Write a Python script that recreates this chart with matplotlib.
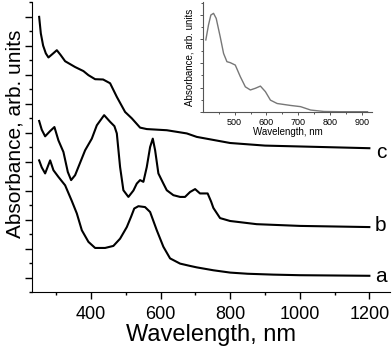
import matplotlib
matplotlib.use('Agg')
from matplotlib import pyplot as plt
from matplotlib.ticker import MultipleLocator, NullFormatter

plt.rcParams['font.family'] = ['Liberation Sans', 'DejaVu Sans']

# curve a
wl_a = [250.6, 258, 267.8, 282.2, 291.7, 306, 325.3, 344.5, 358.9, 373.3, 392.3, 411.5, 440.2, 464, 483.3,
        502.6, 515, 524, 536, 555, 569.6, 588.8, 607.8, 627, 655.8, 684.5, 703.8, 751.5, 800, 850, 924, 1000, 1100, 1200]
abs_a = [4.04, 3.80, 3.59, 4.04, 3.70, 3.47, 3.18, 2.64, 2.21, 1.63, 1.23, 1.02, 1.02, 1.09, 1.34,
         1.74, 2.10, 2.38, 2.46, 2.43, 2.26, 1.63, 1.06, 0.66, 0.48, 0.40, 0.35, 0.25, 0.17, 0.13, 0.10, 0.08, 0.07, 0.06]

# curve b
wl_b = [250.6, 258, 267.8, 282, 294.5, 306, 320.4, 333, 342.5, 354, 382.8, 402, 416.4, 437.4, 454.6, 467, 473.9,
        483.3, 492.8, 507.2, 521.6, 531.3, 540.8, 550.3, 560, 569.6, 577.3, 584, 593.4, 607.8, 617.5, 636.5,
        655.8, 670, 684.5, 699, 713, 735, 745, 751.5, 770.7, 799.5, 876, 1001, 1200]
abs_b = [5.40, 5.10, 4.87, 5.05, 5.19, 4.73, 4.33, 3.64, 3.36, 3.53, 4.39, 4.79, 5.25, 5.60, 5.37, 5.22, 4.97,
         3.81, 3.01, 2.78, 3.00, 3.24, 3.36, 3.30, 3.81, 4.50, 4.79, 4.39, 3.59, 3.24, 3.01, 2.84,
         2.78, 2.78, 2.95, 3.05, 2.90, 2.90, 2.62, 2.40, 2.05, 1.95, 1.84, 1.78, 1.74]

# curve c
wl_c = [250.6, 255.4, 262, 269.8, 277.3, 290, 301.4, 312, 325.3, 354, 377.9, 392.2, 411.5, 434.5, 454.6,
        473.9, 497.7, 517, 540.8, 560, 617.6, 675, 703.8, 799.5, 900, 1000, 1100, 1200]
abs_c = [8.99, 8.42, 8.00, 7.73, 7.59, 7.72, 7.84, 7.68, 7.46, 7.26, 7.12, 6.98, 6.84, 6.83, 6.70,
         6.23, 5.71, 5.49, 5.17, 5.12, 5.08, 4.97, 4.85, 4.64, 4.55, 4.52, 4.49, 4.46]

# inset spectrum
wl_in = [409.5, 417.9, 425.3, 433.7, 442.1, 454.7, 465.3, 475.8, 486.3, 502.1, 517.9, 533.7, 549.5, 565.3,
         581.1, 596.8, 612.6, 633.7, 675.8, 707.4, 739, 781, 833.7, 917.9]
abs_in = [2.97, 3.59, 4.00, 4.07, 3.86, 3.10, 2.41, 2.07, 2.03, 1.93, 1.45, 1.03, 0.90, 0.97,
          1.06, 0.83, 0.48, 0.34, 0.26, 0.21, 0.07, 0.01, 0.0, 0.0]

labels = ['a', 'b', 'c']
label_y = [0.02, 1.80, 4.32]

fig = plt.figure(figsize=(3.92, 3.46), dpi=100)
ax = fig.add_axes([0.0816, 0.156, 0.913, 0.838])

for wl, ab in [(wl_a, abs_a), (wl_b, abs_b), (wl_c, abs_c)]:
	ax.plot(wl, ab, color='black', lw=1.5, solid_joinstyle='round')

for lab, y in zip(labels, label_y):
	ax.text(1233, y, lab, fontsize=15, ha='center', va='center')

ax.set_xlim(230, 1259)
ax.set_ylim(-0.5, 9.5)
ax.spines['top'].set_visible(False)
ax.spines['right'].set_visible(False)
ax.xaxis.set_major_locator(MultipleLocator(200))
ax.xaxis.set_minor_locator(MultipleLocator(100))
ax.yaxis.set_major_locator(MultipleLocator(1))
ax.yaxis.set_minor_locator(MultipleLocator(0.5))
ax.yaxis.set_major_formatter(NullFormatter())
ax.tick_params(which='major', length=5, width=1, labelsize=13, pad=5)
ax.tick_params(which='minor', length=2.5, width=1)
ax.set_xlabel('Wavelength, nm', fontsize=17, labelpad=1)
ax.set_ylabel('Absorbance, arb. units', fontsize=15)
ax.yaxis.set_label_coords(-0.02, 0.545)

# inset
axin = fig.add_axes([0.519, 0.675, 0.430, 0.320])
axin.set_facecolor('none')
axin.plot(wl_in, abs_in, color='#777777', lw=1)
axin.set_xlim(402, 932)
axin.set_ylim(-0.03, 4.55)
axin.spines['top'].set_visible(False)
axin.spines['right'].set_visible(False)
for s in ['left', 'bottom']:
	axin.spines[s].set_color('#555555')
	axin.spines[s].set_linewidth(0.8)
axin.xaxis.set_major_locator(MultipleLocator(100))
axin.xaxis.set_minor_locator(MultipleLocator(50))
axin.yaxis.set_major_locator(MultipleLocator(1))
axin.yaxis.set_minor_locator(MultipleLocator(0.5))
axin.yaxis.set_major_formatter(NullFormatter())
axin.tick_params(which='major', length=2.5, width=0.7, labelsize=6.5, pad=1.5, color='#555555')
axin.tick_params(which='minor', length=1.2, width=0.7, color='#555555')
axin.set_xlabel('Wavelength, nm', fontsize=7, labelpad=0)
axin.set_ylabel('Absorbance, arb. units', fontsize=7, labelpad=2)

plt.savefig('out.png', dpi=100)
